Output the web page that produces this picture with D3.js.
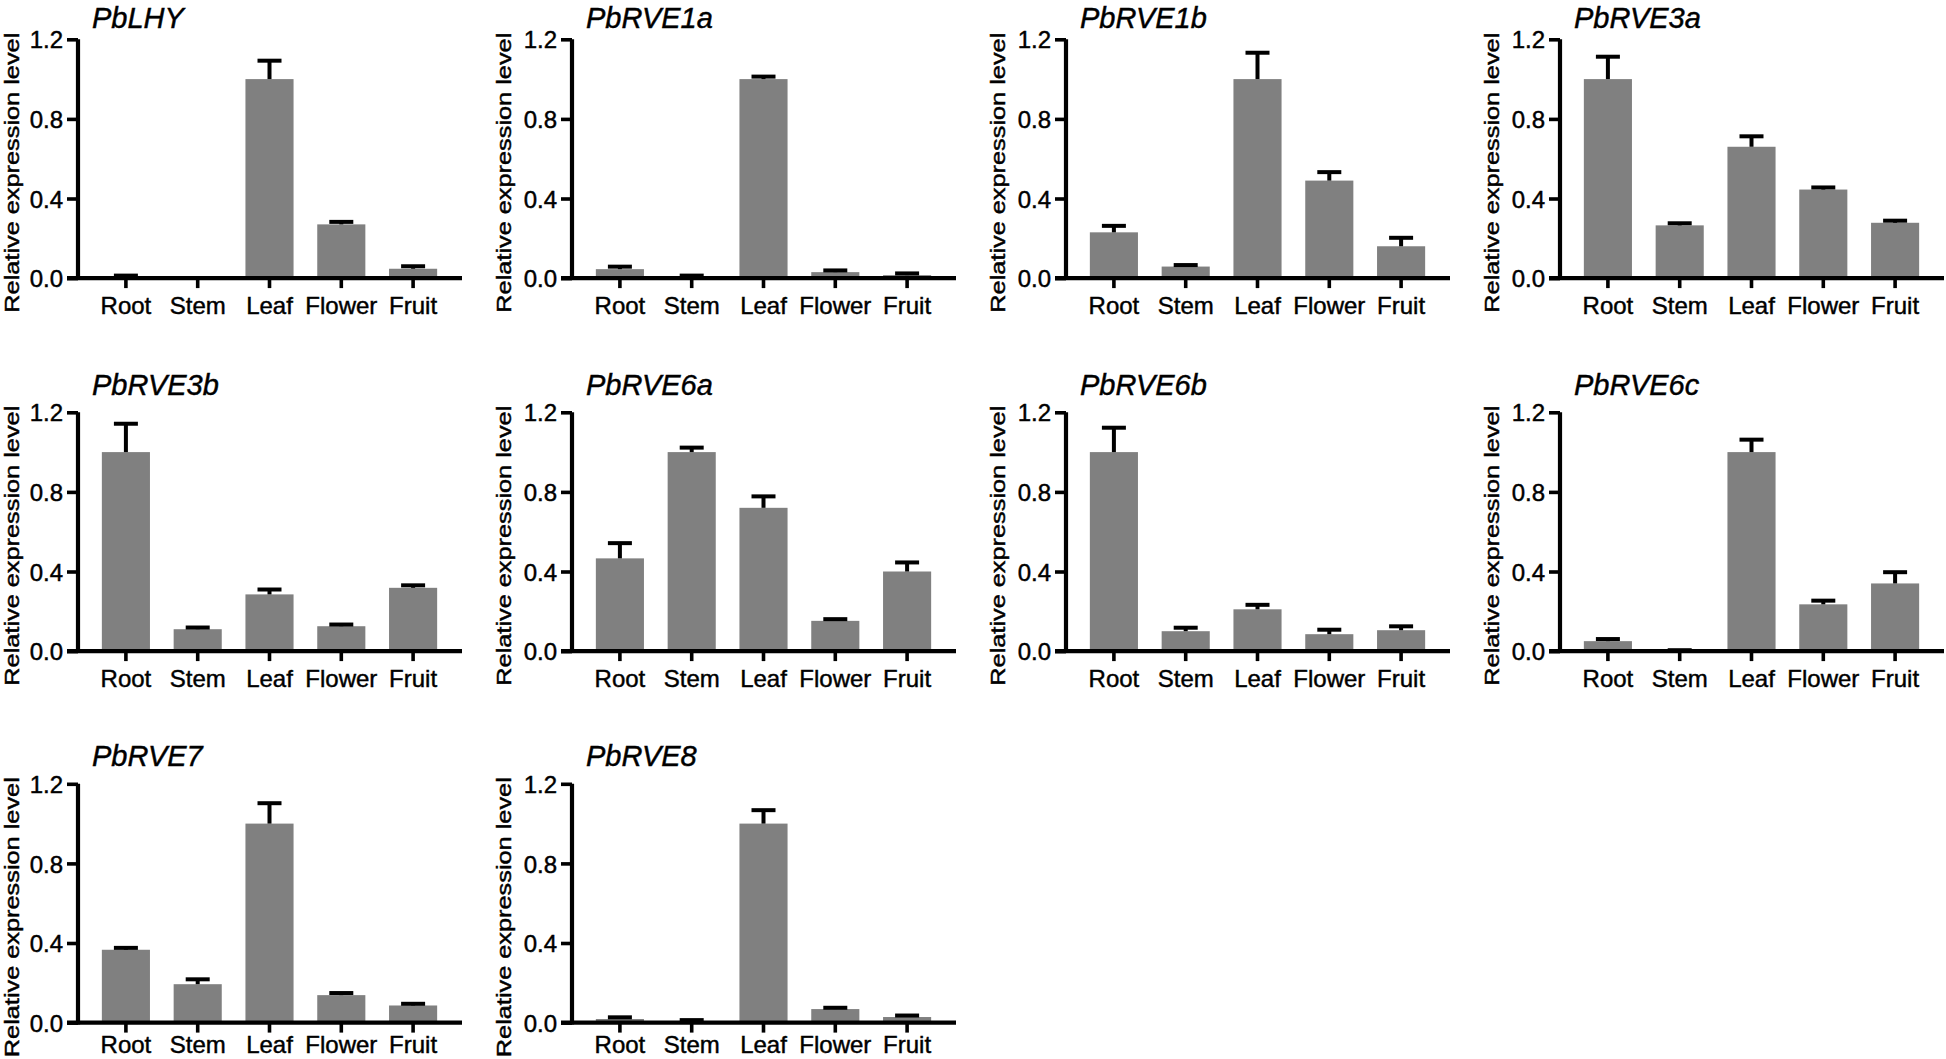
<!DOCTYPE html>
<html>
<head>
<meta charset="utf-8">
<script src="https://cdn.jsdelivr.net/npm/d3@7"></script>
<style>
  html, body { margin: 0; padding: 0; background: #fff; }
  svg { display: block; }
  text { font-family: Arial, "Liberation Sans", Helvetica, sans-serif; fill: #000; stroke: #000; stroke-width: 0.45px; }
</style>
</head>
<body>
<svg id="chart" width="1946" height="1059"></svg>
<script>
// ---- Data ----
const tissues = ["Root", "Stem", "Leaf", "Flower", "Fruit"];
const genes = ["PbLHY", "PbRVE1a", "PbRVE1b", "PbRVE3a", "PbRVE3b", "PbRVE6a", "PbRVE6b", "PbRVE6c", "PbRVE7", "PbRVE8"];
const yTicks = [0.0, 0.4, 0.8, 1.2];
const yLabel = "Relative expression level";

const PbLHY_mean   = [0.005, 0.000, 1.00, 0.27, 0.047];
const PbLHY_err    = [0.005, 0.000, 0.09, 0.010, 0.010];
const PbRVE1a_mean = [0.045, 0.008, 1.00, 0.030, 0.015];
const PbRVE1a_err  = [0.010, 0.002, 0.010, 0.006, 0.006];
const PbRVE1b_mean = [0.23, 0.058, 1.00, 0.49, 0.16];
const PbRVE1b_err  = [0.03, 0.005, 0.13, 0.04, 0.04];
const PbRVE3a_mean = [1.00, 0.265, 0.66, 0.445, 0.278];
const PbRVE3a_err  = [0.11, 0.008, 0.05, 0.008, 0.008];
const PbRVE3b_mean = [1.00, 0.11, 0.285, 0.125, 0.318];
const PbRVE3b_err  = [0.14, 0.006, 0.022, 0.006, 0.010];
const PbRVE6a_mean = [0.466, 1.00, 0.72, 0.152, 0.40];
const PbRVE6a_err  = [0.074, 0.02, 0.055, 0.006, 0.043];
const PbRVE6b_mean = [1.00, 0.10, 0.21, 0.085, 0.105];
const PbRVE6b_err  = [0.12, 0.015, 0.02, 0.02, 0.017];
const PbRVE6c_mean = [0.05, 0.002, 1.00, 0.235, 0.34];
const PbRVE6c_err  = [0.008, 0.000, 0.06, 0.016, 0.054];
const PbRVE7_mean  = [0.366, 0.193, 1.00, 0.138, 0.086];
const PbRVE7_err   = [0.007, 0.022, 0.10, 0.008, 0.006];
const PbRVE8_mean  = [0.018, 0.008, 1.00, 0.068, 0.028];
const PbRVE8_err   = [0.006, 0.002, 0.065, 0.004, 0.005];

const means = [PbLHY_mean, PbRVE1a_mean, PbRVE1b_mean, PbRVE3a_mean, PbRVE3b_mean,
               PbRVE6a_mean, PbRVE6b_mean, PbRVE6c_mean, PbRVE7_mean, PbRVE8_mean];
const errs  = [PbLHY_err, PbRVE1a_err, PbRVE1b_err, PbRVE3a_err, PbRVE3b_err,
               PbRVE6a_err, PbRVE6b_err, PbRVE6c_err, PbRVE7_err, PbRVE8_err];

// ---- Layout ----
const colX = [78, 572, 1066, 1560];
const rowTop = [39.3, 412.3, 783.8];
const plotH = 238.8;
const axisLen = 384;
const barColor = "#808080";

const svg = d3.select("#chart");

genes.forEach((gene, gi) => {
  const col = gi % 4, row = Math.floor(gi / 4);
  const x0 = colX[col], top = rowTop[row], bottom = top + plotH;
  const g = svg.append("g");

  const y = d3.scaleLinear().domain([0, 1.2]).range([bottom, top]);
  const x = d3.scaleBand().domain(tissues).range([x0 + 12, x0 + 371])
              .paddingInner(0.33).paddingOuter(0.165);

  const data = tissues.map((t, i) => ({ t, v: means[gi][i], e: errs[gi][i] }));

  // bars
  g.selectAll("rect.bar").data(data).join("rect")
    .attr("class", "bar")
    .attr("x", d => x(d.t))
    .attr("width", x.bandwidth())
    .attr("y", d => y(d.v))
    .attr("height", d => y(0) - y(d.v))
    .attr("fill", barColor);

  // error bars (upper only)
  const capW = 24;
  const withErr = data.filter(d => d.v > 0);
  g.selectAll("line.ev").data(withErr).join("line")
    .attr("class", "ev")
    .attr("x1", d => x(d.t) + x.bandwidth() / 2)
    .attr("x2", d => x(d.t) + x.bandwidth() / 2)
    .attr("y1", d => y(d.v))
    .attr("y2", d => y(d.v + d.e))
    .attr("stroke", "#000").attr("stroke-width", 4);
  g.selectAll("line.cap").data(withErr).join("line")
    .attr("class", "cap")
    .attr("x1", d => x(d.t) + x.bandwidth() / 2 - capW / 2)
    .attr("x2", d => x(d.t) + x.bandwidth() / 2 + capW / 2)
    .attr("y1", d => y(d.v + d.e) - 0.5)
    .attr("y2", d => y(d.v + d.e) - 0.5)
    .attr("stroke", "#000").attr("stroke-width", 4);

  // y axis
  const yAxis = d3.axisLeft(y).tickValues(yTicks).tickFormat(d3.format(".1f"))
                  .tickSize(11).tickSizeOuter(0).tickPadding(4);
  const ya = g.append("g").attr("transform", `translate(${x0},0)`).call(yAxis);
  ya.select(".domain").attr("stroke", "#000").attr("stroke-width", 4.2)
    .attr("d", `M0,${top}V${bottom + 2}`);
  ya.selectAll(".tick line").attr("stroke", "#000").attr("stroke-width", 3.6);
  ya.selectAll(".tick text").attr("font-size", 24).attr("dy", "0.36em")
    .style("font-family", 'Arial, "Liberation Sans", sans-serif').attr("fill", "#000");

  // x axis
  const xAxis = d3.axisBottom(x).tickSize(10).tickSizeOuter(0).tickPadding(row === 2 ? 3.5 : 9);
  const xa = g.append("g").attr("transform", `translate(0,${bottom})`).call(xAxis);
  xa.select(".domain").attr("stroke", "#000").attr("stroke-width", 4.2)
    .attr("d", `M${x0 - 11},0H${x0 + axisLen}`);
  xa.selectAll(".tick line").attr("stroke", "#000").attr("stroke-width", 3.6);
  xa.selectAll(".tick text").attr("font-size", 24)
    .style("font-family", 'Arial, "Liberation Sans", sans-serif').attr("fill", "#000");

  // title
  g.append("text")
    .attr("x", x0 + 14).attr("y", row === 0 ? 27.5 : top - 17.5)
    .attr("font-size", 29).attr("font-style", "italic")
    .text(gene);

  // y label
  const cy = (top + bottom) / 2 + 14;
  g.append("text")
    .attr("transform", `translate(${x0 - (col === 0 ? 59 : 61)},${cy}) rotate(-90)`)
    .attr("text-anchor", "middle")
    .attr("font-size", 20)
    .attr("textLength", 280).attr("lengthAdjust", "spacingAndGlyphs")
    .text(yLabel);
});
</script>
</body>
</html>
